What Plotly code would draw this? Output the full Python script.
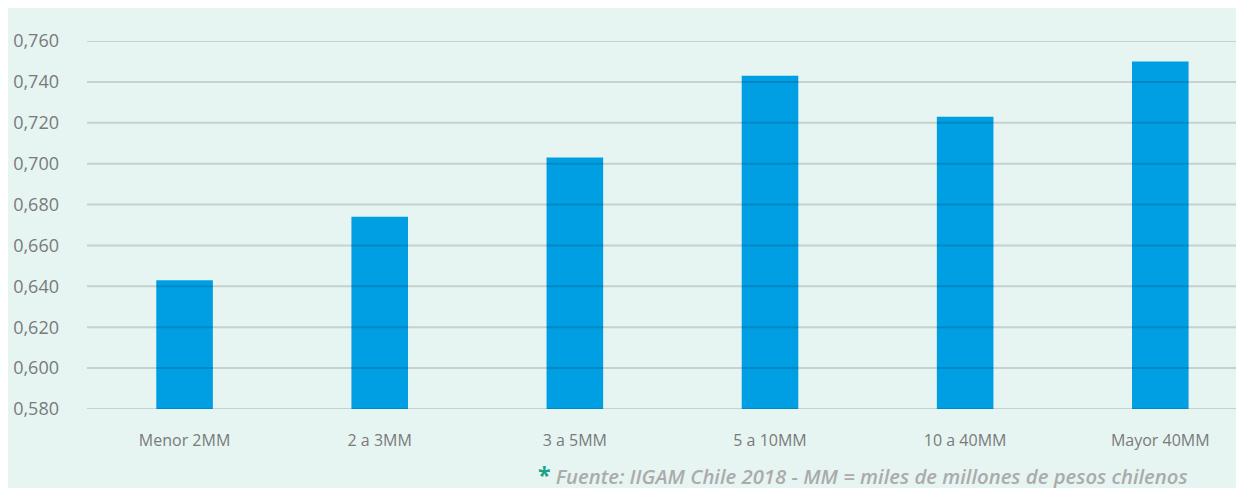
import plotly.graph_objects as go

categories = ["Menor 2MM", "2 a 3MM", "3 a 5MM", "5 a 10MM", "10 a 40MM", "Mayor 40MM"]
values = [0.643, 0.674, 0.703, 0.743, 0.723, 0.750]
y_ticks = [0.58, 0.60, 0.62, 0.64, 0.66, 0.68, 0.70, 0.72, 0.74, 0.76]
footnote = "Fuente: IIGAM Chile 2018 - MM = miles de millones de pesos chilenos"

MINT = "#E6F5F2"
BLUE = "#009FE3"
GRID = "rgba(0,0,0,0.14)"
LABEL = "#7A7A7A"

fig = go.Figure()
fig.add_trace(go.Bar(
    x=categories, y=values, marker=dict(color=BLUE, line=dict(width=0)),
    width=0.29, hoverinfo="x+y",
))

shapes = []
for t in y_ticks:
    shapes.append(dict(type="line", xref="paper", yref="y", x0=0, x1=1.02, y0=t, y1=t,
                       line=dict(color=GRID, width=2), layer="above"))

fig.update_layout(
    width=1244, height=480,
    margin=dict(l=79, r=0, t=33, b=79),
    paper_bgcolor=MINT, plot_bgcolor=MINT,
    separators=",.",
    showlegend=False,
    shapes=shapes,
    font=dict(family="Open Sans", color=LABEL, size=16),
    xaxis=dict(range=[-0.5, 5.47], showgrid=False, zeroline=False, showline=False,
               ticks="", tickfont=dict(size=16, color=LABEL), ticklabelstandoff=20,
               fixedrange=True),
    yaxis=dict(range=[0.58, 0.76], tickvals=y_ticks, tickformat=".3f",
               showgrid=False, zeroline=False, showline=False, ticks="",
               tickfont=dict(size=18, color=LABEL), ticklabelstandoff=27,
               fixedrange=True),
    annotations=[dict(
        xref="x", yref="paper", x=5.15, y=-0.178, xanchor="right", yanchor="middle",
        showarrow=False,
        text="<span style='color:#1AA38A;font-size:23px'><b>*</b></span> <i>" + footnote + "</i>",
        font=dict(family="Open Sans", size=20.3, color="#ABABAB", weight=600),
    )],
)

fig.write_html("out.html")
